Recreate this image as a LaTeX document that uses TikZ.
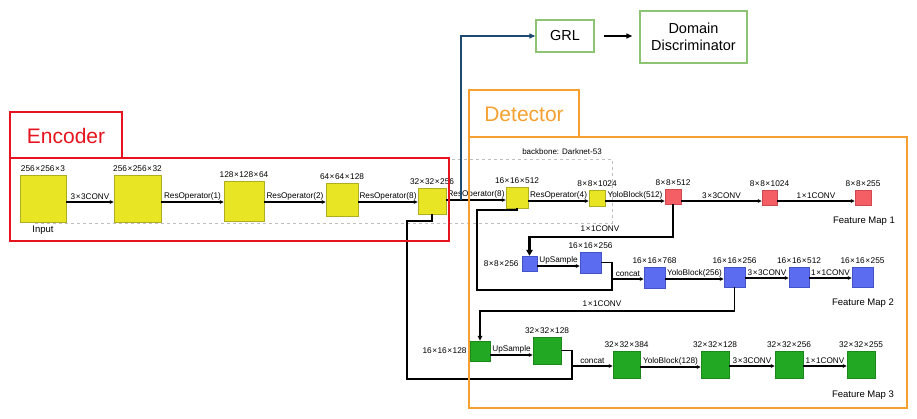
\documentclass[tikz,border=0pt]{standalone}
\usepackage{fontspec}
\setmainfont{Liberation Sans}
\usetikzlibrary{arrows.meta}
\definecolor{yfill}{HTML}{E8E624}
\definecolor{ydraw}{HTML}{B0AE20}
\definecolor{rfill}{HTML}{F45F66}
\definecolor{rdraw}{HTML}{D04850}
\definecolor{bfill}{HTML}{5B6CF0}
\definecolor{bdraw}{HTML}{4454C8}
\definecolor{gfill}{HTML}{22A822}
\definecolor{gdraw}{HTML}{198A19}
\definecolor{encred}{HTML}{E5141E}
\definecolor{detorange}{HTML}{F5A030}
\definecolor{lgreen}{HTML}{8CC474}
\definecolor{navy}{HTML}{1F4A70}
\newcommand{\tms}{\hspace{0.5pt}×\hspace{0.5pt}}
\begin{document}
\begin{tikzpicture}[x=1pt,y=-1pt,
  box/.style={draw,line width=0.5pt,inner sep=0pt},
  ybox/.style={box,fill=yfill,draw=ydraw},
  rbox/.style={box,fill=rfill,draw=rdraw},
  bbox/.style={box,fill=bfill,draw=bdraw},
  gbox/.style={box,fill=gfill,draw=gdraw},
  dimlab/.style={font=\fontsize{8.3}{9}\selectfont,inner sep=1pt,label distance=2pt},
  alab/.style={above,font=\fontsize{8.2}{9}\selectfont,inner sep=1.5pt},
  fmlab/.style={font=\fontsize{9.5}{11}\selectfont,inner sep=0pt},
  arr/.style={line width=1.1pt,-{Triangle[length=4pt,width=3.5pt]}},
  route/.style={line width=1.5pt},
  rarr/.style={line width=1.5pt,-{Triangle[length=5pt,width=4.5pt]}},
  frame/.style={line width=1.8pt},
  gbx/.style={draw=lgreen,line width=1.4pt,inner sep=0pt,align=center,font=\fontsize{14.5}{17}\selectfont}
]
\useasboundingbox (0,0) rectangle (917,418);

% backbone dashed outline
\draw[gray!50,dashed,line width=0.5pt] (35,223) -- (612,223) -- (612,159) -- (449,159);
\node[font=\fontsize{8}{9}\selectfont,inner sep=0pt] (bb) at (562,152) {backbone: Darknet-53};

% boxes
\node[ybox,minimum width=46pt,minimum height=47pt,label={[dimlab]above:256\tms256\tms3},label={[font=\fontsize{9.5}{11}\selectfont,inner sep=1pt,label distance=3pt]below:Input}] (e1) at (43,198.5) {};
\node[ybox,minimum width=47pt,minimum height=47pt,label={[dimlab]above:256\tms256\tms32}] (e2) at (137.5,198.5) {};
\node[ybox,minimum width=40pt,minimum height=40pt,label={[dimlab]above:128\tms128\tms64}] (e3) at (244,201) {};
\node[ybox,minimum width=32pt,minimum height=33pt,label={[dimlab]above:64\tms64\tms128}] (e4) at (342,199.5) {};
\node[ybox,minimum width=28pt,minimum height=26pt,label={[dimlab]above:32\tms32\tms256}] (e5) at (432,201) {};
\node[ybox,minimum width=22pt,minimum height=21pt,label={[dimlab]above:16\tms16\tms512}] (e6) at (517,197.5) {};
\node[ybox,minimum width=16pt,minimum height=16pt,label={[dimlab]above:8\tms8\tms1024}] (e7) at (597,198) {};
\node[rbox,minimum width=16pt,minimum height=15pt,label={[dimlab]above:8\tms8\tms512}] (r1) at (673,196.5) {};
\node[rbox,minimum width=15pt,minimum height=15pt,label={[dimlab]above:8\tms8\tms1024}] (r2) at (769.5,197.5) {};
\node[rbox,minimum width=16pt,minimum height=15pt,label={[dimlab]above:8\tms8\tms255}] (r3) at (863,197.5) {};

\node[bbox,minimum width=15pt,minimum height=15pt,label={[dimlab]left:8\tms8\tms256}] (b1) at (529.5,263.5) {};
\node[bbox,minimum width=21pt,minimum height=21pt,label={[dimlab]above:16\tms16\tms256}] (b2) at (590.5,262.5) {};
\node[bbox,minimum width=21pt,minimum height=21pt,label={[dimlab]above:16\tms16\tms768}] (b3) at (654.5,277.5) {};
\node[bbox,minimum width=21pt,minimum height=20pt,label={[dimlab]above:16\tms16\tms256}] (b4) at (734.5,277) {};
\node[bbox,minimum width=20pt,minimum height=20pt,label={[dimlab]above:16\tms16\tms512}] (b5) at (799,277) {};
\node[bbox,minimum width=21pt,minimum height=20pt,label={[dimlab]above:16\tms16\tms255}] (b6) at (862.5,277) {};

\node[gbox,minimum width=20pt,minimum height=20pt,label={[dimlab]left:16\tms16\tms128}] (g1) at (480,351) {};
\node[gbox,minimum width=28pt,minimum height=27pt,label={[dimlab]above:32\tms32\tms128}] (g2) at (547,350.5) {};
\node[gbox,minimum width=27pt,minimum height=27pt,label={[dimlab]above:32\tms32\tms384}] (g3) at (626.5,364.5) {};
\node[gbox,minimum width=28pt,minimum height=27pt,label={[dimlab]above:32\tms32\tms128}] (g4) at (715,364.5) {};
\node[gbox,minimum width=28pt,minimum height=27pt,label={[dimlab]above:32\tms32\tms256}] (g5) at (789,364.5) {};
\node[gbox,minimum width=28pt,minimum height=27pt,label={[dimlab]above:32\tms32\tms255}] (g6) at (861,364.5) {};

% feature map labels
\node[fmlab] (fm1) at (864,221) {Feature Map 1};
\node[fmlab] (fm2) at (863,303) {Feature Map 2};
\node[fmlab] (fm3) at (863,395) {Feature Map 3};

% main encoder/backbone arrows
\draw[arr] (e1.east |- 0,202) -- node[alab] (a1) {3\tms3CONV} (e2.west |- 0,202);
\draw[arr] (e2.east |- 0,202) -- node[alab] (a2) {ResOperator(1)} (e3.west |- 0,202);
\draw[arr] (e3.east |- 0,202) -- node[alab] (a3) {ResOperator(2)} (e4.west |- 0,202);
\draw[arr] (e4.east |- 0,202) -- node[alab] (a4) {ResOperator(8)} (e5.west |- 0,202);
\draw[arr] (e5.east |- 0,200) -- node[alab] (a5) {ResOperator(8)} (e6.west |- 0,200);
\draw[arr] (e6.east |- 0,201) -- node[alab] (a6) {ResOperator(4)} (e7.west |- 0,201);
\draw[arr] (e7.east |- 0,201) -- node[alab] (a7) {YoloBlock(512)} (r1.west |- 0,201);
\draw[arr] (r1.east |- 0,201) -- node[alab] (a8) {3\tms3CONV} (r2.west |- 0,201);
\draw[arr] (r2.east |- 0,201) -- node[alab] (a9) {1\tms1CONV} (r3.west |- 0,201);

% scale 2
\draw[line width=2.6pt,-{Triangle[length=6pt,width=6.5pt]}] (r1.south) |- (b1.north |- 0,237) -- (b1.north);
\node[font=\fontsize{8.2}{9}\selectfont,inner sep=0pt] (c1) at (600,229) {1\tms1CONV};
\draw[arr] (b1.east |- 0,266) -- node[alab] (a10) {UpSample} (b2.west |- 0,266);
\draw[route] (e6.south) |- (477,210) |- (612,290) |- (b2.east);
\coordinate (cj1) at (612,279);
\draw[arr] (cj1) -- node[alab] (a11) {concat} (b3.west |- cj1);
\draw[arr] (b3.east |- 0,279) -- node[alab] (a12) {YoloBlock(256)} (b4.west |- 0,279);
\draw[arr] (b4.east |- 0,278) -- node[alab] (a13) {3\tms3CONV} (b5.west |- 0,278);
\draw[arr] (b5.east |- 0,278) -- node[alab] (a14) {1\tms1CONV} (b6.west |- 0,278);

% scale 3
\draw[rarr] (b4.south) |- (g1.north |- 0,311) -- (g1.north);
\node[font=\fontsize{8.2}{9}\selectfont,inner sep=0pt] (c2) at (602,304) {1\tms1CONV};
\draw[arr] (g1.east |- 0,355) -- node[alab] (a15) {UpSample} (g2.west |- 0,355);
\draw[route] (e5.south) |- (407,221) |- (572,379) |- (g2.east);
\coordinate (cj2) at (572,366);
\draw[arr] (cj2) -- node[alab] (a16) {concat} (g3.west |- cj2);
\draw[arr] (g3.east |- 0,367) -- node[alab] (a17) {YoloBlock(128)} (g4.west |- 0,367);
\draw[arr] (g4.east |- 0,366) -- node[alab] (a18) {3\tms3CONV} (g5.west |- 0,366);
\draw[arr] (g5.east |- 0,366) -- node[alab] (a19) {1\tms1CONV} (g6.west |- 0,366);

% GRL branch
\node[gbx,minimum width=58pt,minimum height=32pt] (grl) at (565,36) {GRL};
\node[gbx,minimum width=107pt,minimum height=52pt] (dd) at (693.5,37) {Domain\\Discriminator};
\coordinate (tap) at (461,200);
\draw[navy,line width=1.2pt,-{Triangle[length=6pt,width=5pt]}] (tap) |- (grl.west);
\draw[line width=1.3pt,-{Triangle[length=6pt,width=5pt]},shorten <=9pt,shorten >=7pt] (grl.east) -- (dd.west |- grl.east);

% frames
\draw[frame,encred] (10,112) rectangle (122,158);
\draw[frame,encred] (10,158) rectangle (449,241);
\node[text=encred,font=\fontsize{21}{24}\selectfont,inner sep=0pt] (enc) at (66,136) {Encoder};
\draw[frame,detorange] (469,90) rectangle (579,137);
\draw[frame,detorange] (469,137) rectangle (907,408);
\node[text=detorange,font=\fontsize{21}{24}\selectfont,inner sep=0pt] (det) at (524,114) {Detector};
\end{tikzpicture}
\end{document}
